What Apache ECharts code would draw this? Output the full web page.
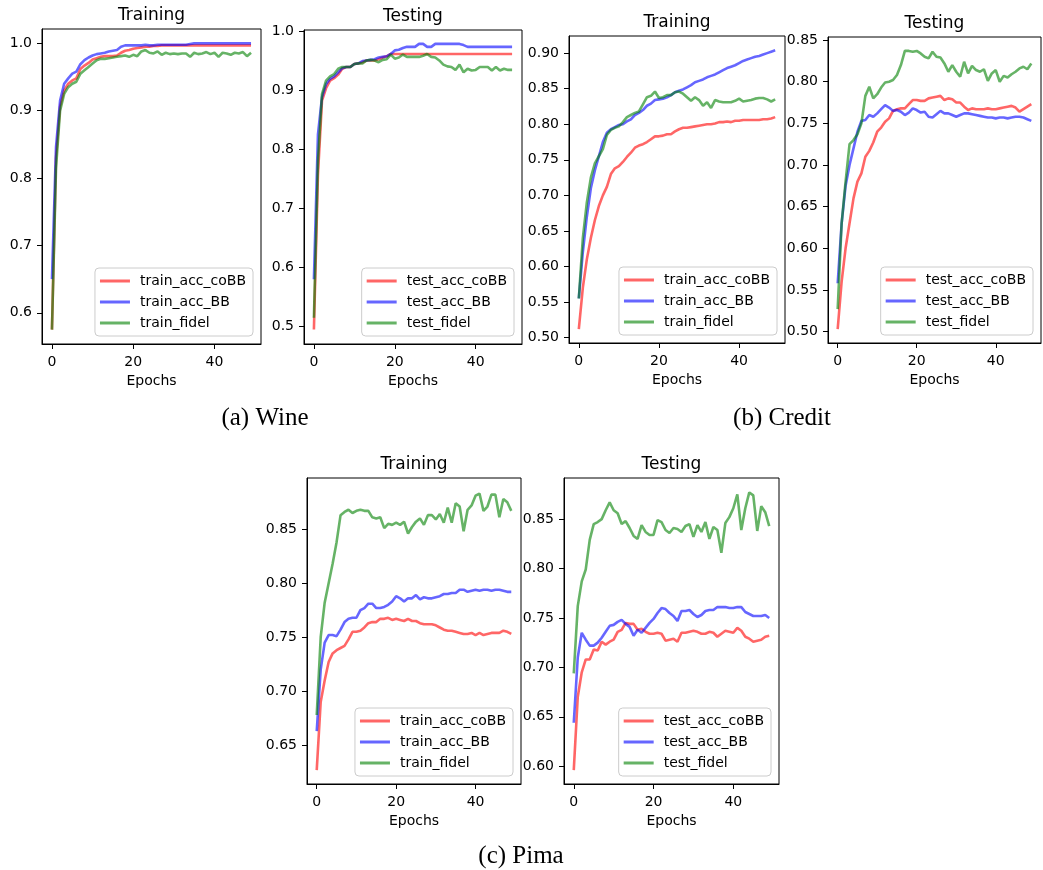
<!DOCTYPE html>
<html>
<head>
<meta charset="utf-8">
<title>Training / Testing curves</title>
<script src="https://cdn.jsdelivr.net/npm/echarts@6.0.0/dist/echarts.min.js"></script>
<style>
  html, body { margin: 0; padding: 0; background: #fff; }
  #main { width: 1043px; height: 870px; }
</style>
</head>
<body>
<div id="main"></div>
<script>
// epochs 0..49
const epochs = [0, 1, 2, 3, 4, 5, 6, 7, 8, 9, 10, 11, 12, 13, 14, 15, 16, 17, 18, 19,
  20, 21, 22, 23, 24, 25, 26, 27, 28, 29, 30, 31, 32, 33, 34, 35, 36, 37, 38, 39,
  40, 41, 42, 43, 44, 45, 46, 47, 48, 49];
const epochTicks = [0, 20, 40];

const trainNames = ["train_acc_coBB", "train_acc_BB", "train_fidel"];
const testNames = ["test_acc_coBB", "test_acc_BB", "test_fidel"];

// (a) Wine
const wineTrainCoBB = [0.575, 0.83, 0.906, 0.93, 0.94, 0.945, 0.948, 0.962, 0.967, 0.971,
  0.976, 0.978, 0.98, 0.981, 0.981, 0.981, 0.982, 0.986, 0.989, 0.99,
  0.992, 0.993, 0.994, 0.995, 0.995, 0.996, 0.996, 0.997, 0.997, 0.997,
  0.997, 0.997, 0.997, 0.997, 0.997, 0.997, 0.997, 0.997, 0.997, 0.997,
  0.997, 0.997, 0.997, 0.997, 0.997, 0.997, 0.997, 0.997, 0.997, 0.997];
const wineTrainBB = [0.65, 0.846, 0.915, 0.94, 0.948, 0.955, 0.958, 0.969, 0.975, 0.979,
  0.982, 0.984, 0.985, 0.986, 0.988, 0.989, 0.99, 0.995, 0.997, 0.997,
  0.997, 0.997, 0.997, 0.998, 0.997, 0.997, 0.998, 0.998, 0.998, 0.998,
  0.998, 0.998, 0.998, 0.998, 0.999, 1.0, 1.0, 1.0, 1.0, 1.0,
  1.0, 1.0, 1.0, 1.0, 1.0, 1.0, 1.0, 1.0, 1.0, 1.0];
const wineTrainFidel = [0.575, 0.815, 0.9, 0.925, 0.935, 0.94, 0.943, 0.955, 0.96, 0.965,
  0.97, 0.975, 0.977, 0.977, 0.978, 0.979, 0.98, 0.981, 0.982, 0.98,
  0.983, 0.981, 0.988, 0.99, 0.986, 0.985, 0.988, 0.983, 0.986, 0.984,
  0.985, 0.984, 0.985, 0.985, 0.98, 0.986, 0.984, 0.985, 0.987, 0.984,
  0.986, 0.98, 0.986, 0.985, 0.983, 0.986, 0.985, 0.987, 0.981, 0.986];
const wineTestCoBB = [0.495, 0.757, 0.882, 0.903, 0.916, 0.92, 0.926, 0.936, 0.939, 0.939,
  0.944, 0.945, 0.947, 0.95, 0.95, 0.95, 0.952, 0.955, 0.957, 0.961,
  0.961, 0.961, 0.961, 0.961, 0.961, 0.961, 0.961, 0.961, 0.961, 0.961,
  0.961, 0.961, 0.961, 0.961, 0.961, 0.961, 0.961, 0.961, 0.961, 0.961,
  0.961, 0.961, 0.961, 0.961, 0.961, 0.961, 0.961, 0.961, 0.961, 0.961];
const wineTestBB = [0.58, 0.825, 0.888, 0.91, 0.919, 0.923, 0.93, 0.937, 0.939, 0.939,
  0.944, 0.945, 0.949, 0.95, 0.951, 0.952, 0.955, 0.956, 0.957, 0.961,
  0.967, 0.968, 0.971, 0.973, 0.973, 0.973, 0.978, 0.978, 0.973, 0.973,
  0.978, 0.978, 0.978, 0.978, 0.978, 0.978, 0.978, 0.976, 0.973, 0.973,
  0.973, 0.973, 0.973, 0.973, 0.973, 0.973, 0.973, 0.973, 0.973, 0.973];
const wineTestFidel = [0.515, 0.78, 0.893, 0.916, 0.923, 0.927, 0.936, 0.939, 0.939, 0.939,
  0.944, 0.945, 0.945, 0.95, 0.951, 0.95, 0.947, 0.951, 0.952, 0.96,
  0.953, 0.955, 0.96, 0.956, 0.956, 0.956, 0.956, 0.958, 0.961, 0.956,
  0.955, 0.95, 0.943, 0.94, 0.939, 0.934, 0.943, 0.93, 0.936, 0.933,
  0.934, 0.939, 0.939, 0.939, 0.933, 0.939, 0.933, 0.936, 0.934, 0.934];

// (b) Credit
const creditTrainCoBB = [0.512, 0.57, 0.61, 0.64, 0.665, 0.685, 0.70, 0.712, 0.73, 0.738,
  0.741, 0.747, 0.754, 0.76, 0.767, 0.77, 0.772, 0.775, 0.779, 0.783,
  0.783, 0.784, 0.786, 0.786, 0.79, 0.793, 0.795, 0.795, 0.796, 0.797,
  0.798, 0.799, 0.80, 0.80, 0.801, 0.803, 0.803, 0.804, 0.803, 0.805,
  0.805, 0.806, 0.806, 0.806, 0.806, 0.806, 0.807, 0.807, 0.808, 0.81];
const creditTrainBB = [0.555, 0.62, 0.67, 0.71, 0.735, 0.755, 0.775, 0.788, 0.793, 0.796,
  0.799, 0.80, 0.804, 0.807, 0.813, 0.816, 0.82, 0.826, 0.829, 0.834,
  0.835, 0.836, 0.838, 0.841, 0.845, 0.847, 0.849, 0.852, 0.855, 0.859,
  0.861, 0.863, 0.866, 0.868, 0.87, 0.873, 0.876, 0.879, 0.881, 0.883,
  0.886, 0.889, 0.891, 0.893, 0.895, 0.896, 0.898, 0.90, 0.902, 0.904];
const creditTrainFidel = [0.555, 0.64, 0.69, 0.725, 0.745, 0.755, 0.765, 0.785, 0.792, 0.795,
  0.797, 0.803, 0.81, 0.813, 0.816, 0.818, 0.828, 0.838, 0.84, 0.846,
  0.837, 0.838, 0.841, 0.841, 0.845, 0.846, 0.843, 0.838, 0.833, 0.838,
  0.834, 0.826, 0.831, 0.823, 0.834, 0.832, 0.831, 0.831, 0.831, 0.833,
  0.836, 0.832, 0.833, 0.834, 0.836, 0.837, 0.837, 0.835, 0.832, 0.835];
const creditTestCoBB = [0.503, 0.56, 0.60, 0.63, 0.66, 0.68, 0.69, 0.71, 0.717, 0.727,
  0.74, 0.745, 0.752, 0.756, 0.765, 0.767, 0.768, 0.768, 0.773, 0.778,
  0.778, 0.777, 0.777, 0.78, 0.781, 0.782, 0.783, 0.778, 0.78, 0.779,
  0.775, 0.775, 0.77, 0.766, 0.768, 0.767, 0.767, 0.767, 0.768, 0.767,
  0.767, 0.768, 0.769, 0.77, 0.771, 0.769, 0.764, 0.767, 0.77, 0.773];
const creditTestBB = [0.558, 0.63, 0.675, 0.70, 0.72, 0.74, 0.753, 0.754, 0.76, 0.758,
  0.762, 0.767, 0.772, 0.769, 0.765, 0.766, 0.764, 0.76, 0.763, 0.768,
  0.766, 0.763, 0.764, 0.758, 0.757, 0.761, 0.765, 0.762, 0.762, 0.76,
  0.758, 0.76, 0.762, 0.762, 0.761, 0.76, 0.759, 0.758, 0.757, 0.757,
  0.756, 0.757, 0.757, 0.756, 0.757, 0.758, 0.758, 0.757, 0.755, 0.753];
const creditTestFidel = [0.527, 0.63, 0.68, 0.725, 0.73, 0.737, 0.75, 0.783, 0.794, 0.78,
  0.785, 0.793, 0.799, 0.80, 0.802, 0.808, 0.82, 0.837, 0.837, 0.836,
  0.837, 0.834, 0.83, 0.828, 0.836, 0.83, 0.829, 0.822, 0.812, 0.82,
  0.812, 0.806, 0.824, 0.81, 0.819, 0.814, 0.812, 0.815, 0.801, 0.81,
  0.814, 0.80, 0.807, 0.805, 0.809, 0.812, 0.816, 0.818, 0.815, 0.822];

// (c) Pima
const pimaTrainCoBB = [0.627, 0.69, 0.71, 0.727, 0.735, 0.738, 0.74, 0.742, 0.748, 0.755,
  0.755, 0.756, 0.759, 0.763, 0.764, 0.764, 0.767, 0.767, 0.768, 0.766,
  0.767, 0.766, 0.765, 0.767, 0.765, 0.765, 0.763, 0.762, 0.762, 0.762,
  0.761, 0.759, 0.757, 0.756, 0.756, 0.755, 0.754, 0.753, 0.753, 0.754,
  0.752, 0.754, 0.752, 0.753, 0.754, 0.754, 0.754, 0.756, 0.755, 0.753];
const pimaTrainBB = [0.663, 0.72, 0.745, 0.752, 0.752, 0.751, 0.757, 0.764, 0.767, 0.768,
  0.768, 0.775, 0.777, 0.781, 0.781, 0.777, 0.777, 0.778, 0.78, 0.783,
  0.788, 0.786, 0.783, 0.786, 0.786, 0.789, 0.785, 0.787, 0.786, 0.786,
  0.787, 0.788, 0.79, 0.79, 0.791, 0.791, 0.794, 0.794, 0.792, 0.793,
  0.794, 0.793, 0.794, 0.794, 0.793, 0.794, 0.794, 0.793, 0.792, 0.792];
const pimaTrainFidel = [0.678, 0.75, 0.782, 0.80, 0.818, 0.838, 0.863, 0.866, 0.868, 0.865,
  0.867, 0.868, 0.867, 0.867, 0.861, 0.86, 0.861, 0.851, 0.855, 0.854,
  0.856, 0.854, 0.857, 0.846, 0.852, 0.857, 0.86, 0.854, 0.863, 0.863,
  0.859, 0.864, 0.856, 0.87, 0.856, 0.874, 0.871, 0.848, 0.868, 0.872,
  0.881, 0.883, 0.867, 0.871, 0.882, 0.882, 0.861, 0.878, 0.875, 0.867];
const pimaTestCoBB = [0.596, 0.67, 0.695, 0.708, 0.708, 0.718, 0.717, 0.726, 0.723, 0.726,
  0.728, 0.736, 0.738, 0.745, 0.744, 0.744, 0.738, 0.739, 0.736, 0.734,
  0.734, 0.735, 0.734, 0.727, 0.728, 0.729, 0.726, 0.735, 0.735, 0.736,
  0.737, 0.736, 0.734, 0.734, 0.736, 0.735, 0.731, 0.734, 0.737, 0.736,
  0.735, 0.74, 0.737, 0.731, 0.729, 0.726, 0.727, 0.728, 0.731, 0.732];
const pimaTestBB = [0.644, 0.71, 0.735, 0.728, 0.722, 0.722, 0.725, 0.73, 0.736, 0.742,
  0.743, 0.746, 0.748, 0.744, 0.741, 0.732, 0.738, 0.735, 0.74, 0.745,
  0.749, 0.755, 0.76, 0.759, 0.755, 0.752, 0.747, 0.757, 0.757, 0.758,
  0.754, 0.751, 0.753, 0.757, 0.758, 0.758, 0.761, 0.761, 0.761, 0.76,
  0.76, 0.761, 0.761, 0.756, 0.754, 0.752, 0.752, 0.752, 0.753, 0.75];
const pimaTestFidel = [0.694, 0.762, 0.787, 0.799, 0.829, 0.845, 0.847, 0.85, 0.859, 0.867,
  0.859, 0.856, 0.845, 0.848, 0.841, 0.833, 0.83, 0.844, 0.837, 0.834,
  0.834, 0.849, 0.847, 0.839, 0.836, 0.841, 0.84, 0.837, 0.843, 0.845,
  0.832, 0.844, 0.837, 0.847, 0.83, 0.842, 0.839, 0.816, 0.846, 0.852,
  0.861, 0.875, 0.839, 0.861, 0.877, 0.874, 0.838, 0.863, 0.857, 0.843];

// y tick labels per panel
const wineTrainTicks = [0.6, 0.7, 0.8, 0.9, 1.0];
const wineTestTicks = [0.5, 0.6, 0.7, 0.8, 0.9, 1.0];
const creditTrainTicks = [0.50, 0.55, 0.60, 0.65, 0.70, 0.75, 0.80, 0.85, 0.90];
const creditTestTicks = [0.50, 0.55, 0.60, 0.65, 0.70, 0.75, 0.80, 0.85];
const pimaTrainTicks = [0.65, 0.70, 0.75, 0.80, 0.85];
const pimaTestTicks = [0.60, 0.65, 0.70, 0.75, 0.80, 0.85];

const colors = ["rgba(255,0,0,0.6)", "rgba(0,0,255,0.6)", "rgba(0,128,0,0.6)"];
const W = 1043, H = 870;
const sans = "DejaVu Sans";

// layout of the six axes boxes (pixels)
const panels = [
  { title: "Training", box: [42, 29, 219, 315], y: [0.5537, 1.0213], ticks: wineTrainTicks, dec: 1,
    names: trainNames, data: [wineTrainCoBB, wineTrainBB, wineTrainFidel] },
  { title: "Testing", box: [304, 30, 218, 314], y: [0.4705, 1.0015], ticks: wineTestTicks, dec: 1,
    names: testNames, data: [wineTestCoBB, wineTestBB, wineTestFidel] },
  { title: "Training", box: [569, 36, 216, 307], y: [0.4924, 0.9241], ticks: creditTrainTicks, dec: 2,
    names: trainNames, data: [creditTrainCoBB, creditTrainBB, creditTrainFidel] },
  { title: "Testing", box: [828, 37, 213, 306], y: [0.4863, 0.8537], ticks: creditTestTicks, dec: 2,
    names: testNames, data: [creditTestCoBB, creditTestBB, creditTestFidel] },
  { title: "Training", box: [307, 478, 214, 306], y: [0.6141, 0.8974], ticks: pimaTrainTicks, dec: 2,
    names: trainNames, data: [pimaTrainCoBB, pimaTrainBB, pimaTrainFidel] },
  { title: "Testing", box: [564, 478, 215, 306], y: [0.582, 0.8916], ticks: pimaTestTicks, dec: 2,
    names: testNames, data: [pimaTestCoBB, pimaTestBB, pimaTestFidel] },
];

const captions = [
  { text: "(a) Wine", x: 265, y: 406 },
  { text: "(b) Credit", x: 782, y: 406 },
  { text: "(c) Pima", x: 521, y: 844 },
];

const chart = echarts.init(document.getElementById("main"), null, { renderer: "canvas" });

const labelStyle = { color: "#000", fontSize: 14, fontFamily: sans };

const option = {
  animation: false,
  backgroundColor: "#fff",
  title: panels.map((p) => ({
    text: p.title,
    left: p.box[0] + p.box[2] / 2,
    top: p.box[1] - 22,
    padding: 0,
    textAlign: "center",
    textStyle: { color: "#000", fontSize: 17, fontWeight: "normal", fontFamily: sans },
  })).concat(captions.map((c) => ({
    text: c.text,
    left: c.x,
    top: c.y,
    padding: 0,
    textAlign: "center",
    textStyle: { color: "#000", fontSize: 25, fontWeight: "normal", fontFamily: "Liberation Serif" },
  }))),
  grid: panels.map((p) => ({
    left: p.box[0],
    top: p.box[1],
    width: p.box[2],
    height: p.box[3],
    show: true,
    borderColor: "#000",
    borderWidth: 1,
    backgroundColor: "transparent",
  })),
  xAxis: panels.map((p, i) => ({
    gridIndex: i,
    type: "value",
    min: -2.45,
    max: 51.45,
    name: "Epochs",
    nameLocation: "middle",
    nameGap: 30,
    nameTextStyle: labelStyle,
    splitLine: { show: false },
    axisLine: { show: true, onZero: false, lineStyle: { color: "#000", width: 1 } },
    axisTick: { show: true, length: 5, customValues: epochTicks, lineStyle: { color: "#000" } },
    axisLabel: Object.assign({ customValues: epochTicks, margin: 11 }, labelStyle),
  })),
  yAxis: panels.map((p, i) => ({
    gridIndex: i,
    type: "value",
    min: p.y[0],
    max: p.y[1],
    splitLine: { show: false },
    axisLine: { show: true, onZero: false, lineStyle: { color: "#000", width: 1 } },
    axisTick: { show: true, length: 5, customValues: p.ticks, lineStyle: { color: "#000" } },
    axisLabel: Object.assign({
      customValues: p.ticks,
      margin: 10,
      formatter: (v) => v.toFixed(p.dec),
    }, labelStyle),
  })),
  legend: panels.map((p) => ({
    data: p.names,
    orient: "vertical",
    right: W - (p.box[0] + p.box[2]) + 8,
    bottom: H - (p.box[1] + p.box[3]) + 8,
    icon: "rect",
    itemWidth: 30,
    itemHeight: 3,
    itemGap: 7,
    padding: [6, 7, 6, 5],
    backgroundColor: "rgba(255,255,255,0.8)",
    borderColor: "#cccccc",
    borderWidth: 1,
    borderRadius: 4,
    selectedMode: false,
    textStyle: { color: "#000", fontSize: 14, fontFamily: sans, lineHeight: 14, padding: [0, 0, 0, 5] },
  })),
  series: [],
};

panels.forEach((p, i) => {
  p.data.forEach((arr, k) => {
    option.series.push({
      name: p.names[k],
      type: "line",
      xAxisIndex: i,
      yAxisIndex: i,
      data: epochs.map((e, j) => [e, arr[j]]),
      symbol: "none",
      showSymbol: false,
      color: colors[k],
      lineStyle: { color: colors[k], width: 2.6 },
      z: 2 + k,
    });
  });
});

chart.setOption(option);
</script>
</body>
</html>
